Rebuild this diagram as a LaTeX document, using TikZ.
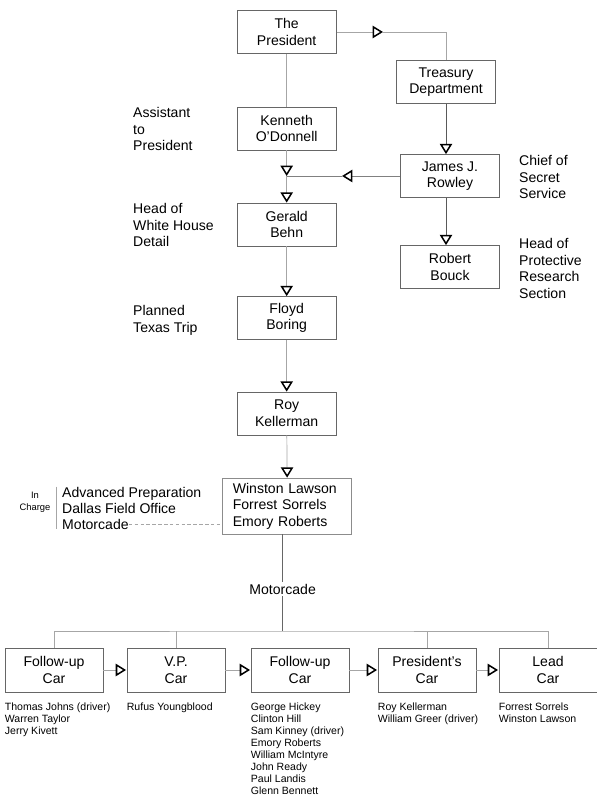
\documentclass[tikz,border=0pt]{standalone}
\usepackage{fontspec}
\setmainfont{Liberation Sans}
\usetikzlibrary{arrows.meta}

\begin{document}
\begin{tikzpicture}

\tikzset{box/.style = {shape=rectangle, draw=black!60, line width=0.6pt, minimum width=2.97cm, minimum height=1.29cm, align=center, font=\fontsize{12}{14.2}\selectfont}}
\tikzset{car/.style = {box, minimum width=2.94cm, minimum height=1.32cm}}
\tikzset{note/.style = {align=left, anchor=north west, inner sep=0pt, font=\fontsize{12}{14.2}\selectfont}}
\tikzset{names/.style = {align=left, anchor=north west, inner sep=0pt, font=\fontsize{9}{10.3}\selectfont}}
\tikzset{link/.style = {draw=black!35, line width=0.6pt}}
\tikzset{edge/.style = {link, -{Triangle[open, length=3.1mm, width=3.7mm, color=black, line width=1.3pt]}}}

\fill[white] (0,0) rectangle (17.91,-24);
\useasboundingbox (0,0) rectangle (17.91,-24);

%chain of command
\node[box] (pres) at (8.6,-0.96) {The\\President};
\node[box] (treas) at (13.38,-2.46) {Treasury\\Department};
\node[box] (kod) at (8.6,-3.855) {Kenneth\\O'Donnell};
\node[box] (rowley) at (13.5,-5.28) {James J.\\Rowley};
\node[box] (behn) at (8.6,-6.735) {Gerald\\Behn};
\node[box] (bouck) at (13.5,-8.01) {Robert\\Bouck};
\node[box] (boring) at (8.6,-9.54) {Floyd\\Boring};
\node[box] (keller) at (8.6,-12.405) {Roy\\Kellerman};
\node[box, draw=black!45, align=left, text width=3.27cm, minimum width=3.87cm, minimum height=1.68cm, inner xsep=0.3cm] (charge) at (8.62,-15.18) {Winston Lawson\\Forrest Sorrels\\Emory Roberts};

%titles
\node[note] (asst) at (3.99,-3.21) {Assistant\\to\\President};
\node[note] (whd) at (3.99,-6.09) {Head of\\White House\\Detail};
\node[note] (texas) at (3.99,-9.15) {Planned\\Texas Trip};
\node[note] (chief) at (15.57,-4.65) {Chief of\\Secret\\Service};
\node[note] (prs) at (15.57,-7.14) {Head of\\Protective\\Research\\Section};

%in charge
\node[note, anchor=base west] (adv) at (1.86,-14.91) {Advanced Preparation};
\node[note, anchor=base west] (dal) at (1.86,-15.39) {Dallas Field Office};
\node[note, anchor=base west] (mot) at (1.86,-15.87) {Motorcade};
\node[align=center, inner sep=0pt, font=\fontsize{8}{10.5}\selectfont] (incharge) at (1.05,-15.06) {In\\Charge};
\draw[link] ([xshift=-1.8mm]adv.north west) -- ([xshift=-1.8mm]mot.south west);
\draw[link, dash pattern=on 3pt off 2pt] (mot.east) -- (mot.east -| charge.west);

%edges
\coordinate (ptip) at (11.49,-0.96);
\coordinate (junc) at (8.6,-5.28);
\coordinate (rtip) at (10.26,-5.28);
\draw[edge] (pres.east) -- (ptip);
\draw[link] (ptip) -| (treas.north);
\draw[link] (pres) -- (kod);
\draw[edge, draw=black!65] (treas.south) -- (treas.south |- rowley.north);
\draw[edge, draw=black!65] (rowley.south -| treas.south) -- (bouck.north -| treas.south);
\draw[edge, draw=black!50] (rowley.west) -- (rtip);
\draw[link, draw=black!50] (rtip) -- (junc);
\draw[edge] (kod.south) -- (junc);
\draw[edge] (junc) -- (behn.north);
\draw[edge] (behn) -- (boring);
\draw[edge] (boring) -- (keller);
\draw[edge] (keller) -- (charge);

%motorcade
\node[inner sep=1.5pt, font=\fontsize{12}{14.2}\selectfont] (motor) at (8.48,-17.67) {Motorcade};
\coordinate (bar) at (8.48,-18.93);
\draw[link, draw=black!60] (charge.south -| motor) -- (motor.north);
\draw[link, draw=black!60] (motor.south) -- (bar);

\node[car] (car1) at (1.62,-20.1) {Follow-up\\Car};
\node[car] (car2) at (5.28,-20.1) {V.P.\\Car};
\node[car] (car3) at (9.0,-20.1) {Follow-up\\Car};
\node[car] (car4) at (12.81,-20.1) {President's\\Car};
\node[car] (car5) at (16.44,-20.1) {Lead\\Car};

\draw[link] (car1.north) |- (bar) -| (car5.north);
\draw[link] (car2.north) -- (car2.north |- bar);
\draw[link] (car4.north) -- (car4.north |- bar);
\draw[edge, shorten >=0.5pt] (car1) -- (car2);
\draw[edge, shorten >=0.5pt] (car2) -- (car3);
\draw[edge, shorten >=0.5pt] (car3) -- (car4);
\draw[edge, shorten >=0.5pt] (car4) -- (car5);

%passengers
\node[names] (crew1) at ([yshift=-3mm]car1.south west) {Thomas Johns (driver)\\Warren Taylor\\Jerry Kivett};
\node[names] (crew2) at ([yshift=-3mm]car2.south west) {Rufus Youngblood};
\node[names] (crew3) at ([yshift=-3mm]car3.south west) {George Hickey\\Clinton Hill\\Sam Kinney (driver)\\Emory Roberts\\William McIntyre\\John Ready\\Paul Landis\\Glenn Bennett};
\node[names] (crew4) at ([yshift=-3mm]car4.south west) {Roy Kellerman\\William Greer (driver)};
\node[names] (crew5) at ([yshift=-3mm]car5.south west) {Forrest Sorrels\\Winston Lawson};

\end{tikzpicture}
\end{document}
